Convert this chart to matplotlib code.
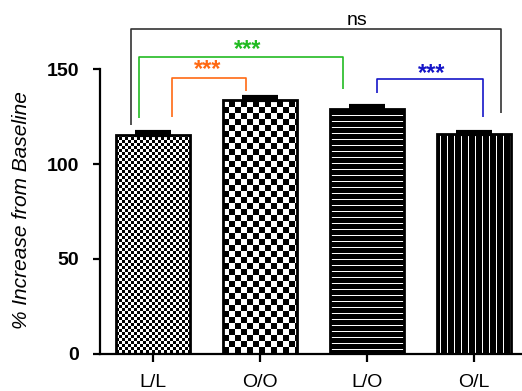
import numpy as np
import matplotlib
matplotlib.use("Agg")
import matplotlib.pyplot as plt

groups = ["L/L", "O/O", "L/O", "O/L"]
means = [115.5, 134.0, 129.3, 115.8]
sems = [1.5, 1.5, 1.5, 1.3]

# brackets: (x_left, x_right, y_top, y_left_end, y_right_end, label, label_x, label_y, colour)
brackets = [
    (-0.206, 3.252, 171.1, 120.6, 127.0, "ns", 1.907, 171.3, "#333333"),
    (-0.131, 1.773, 156.7, 124.3, 139.6, "***", 0.888, 160.8, "#22bb22"),
    (0.175, 0.869, 145.3, 125.0, 138.8, "***", 0.514, 150.7, "#ff6a13"),
    (2.091, 3.081, 144.8, 137.5, 125.0, "***", 2.607, 148.3, "#1515c8"),
]

plt.rcParams["font.family"] = ["Liberation Sans", "DejaVu Sans"]

fig = plt.figure(figsize=(5.22, 3.91), dpi=100)
ax = fig.add_axes([100 / 522, 37.5 / 391, 422 / 522, 353.5 / 391])
ax.set_xlim(-0.495, 3.449)
ax.set_ylim(0, 186.6)

x = np.arange(len(groups))
bars = ax.bar(x, means, width=0.69, facecolor="none", edgecolor="black",
              linewidth=2, zorder=3)


def pattern(kind, ny, nx):
    ii, jj = np.mgrid[0:ny, 0:nx]
    if kind == "fine":
        return ((ii // 3 + jj // 3) % 2).astype(float)
    if kind == "coarse":
        return ((ii // 6 + jj // 6) % 2).astype(float)
    if kind == "hlines":
        return (ii % 6 == 3).astype(float)
    return (jj % 7 == 3).astype(float)


kinds = ["fine", "coarse", "hlines", "vlines"]
for rect, kind in zip(bars, kinds):
    x0, w, h = rect.get_x(), rect.get_width(), rect.get_height()
    p0 = ax.transData.transform((x0, 0))
    p1 = ax.transData.transform((x0 + w, h))
    nx = int(round(p1[0] - p0[0]))
    ny = int(round(p1[1] - p0[1]))
    im = ax.imshow(pattern(kind, ny, nx), cmap="gray", vmin=0, vmax=1,
                   extent=(x0, x0 + w, 0, h), interpolation="nearest",
                   aspect="auto", origin="lower", zorder=2)
    im.set_clip_path(rect)

ax.errorbar(x, means, yerr=[np.zeros(len(x)), sems], fmt="none",
            ecolor="black", elinewidth=2, capsize=13, capthick=3, zorder=4)

for xl, xr, yt, yl, yr, lab, lx, ly, col in brackets:
    ax.plot([xl, xl, xr, xr], [yl, yt, yt, yr], color=col, lw=1.2,
            solid_capstyle="butt", zorder=5)
    if lab == "ns":
        ax.text(lx, ly, lab, ha="center", va="bottom", fontsize=14, color="black")
    else:
        # asterisks sit high in the em box, so place by baseline
        ax.text(lx, ly - 4, lab, ha="center", va="baseline", fontsize=17,
                fontweight="bold", color=col)

ax.spines["top"].set_visible(False)
ax.spines["right"].set_visible(False)
ax.spines["left"].set_linewidth(1.6)
ax.spines["bottom"].set_linewidth(1.6)
ax.spines["left"].set_bounds(0, 150)

ax.set_yticks([0, 50, 100, 150])
ax.set_xticks(x)
ax.set_xticklabels(groups, fontsize=14)
for t in ax.get_yticklabels():
    t.set_fontsize(14)
    t.set_fontweight("bold")
ax.tick_params(axis="y", length=5, width=1.6, pad=10)
ax.tick_params(axis="x", length=6, width=1.6, pad=9)

ax.set_ylabel("% Increase from Baseline", fontsize=15, style="italic",
              va="center")
ax.yaxis.set_label_coords(-0.185, 0.407)

fig.savefig("out.png", dpi=100)
